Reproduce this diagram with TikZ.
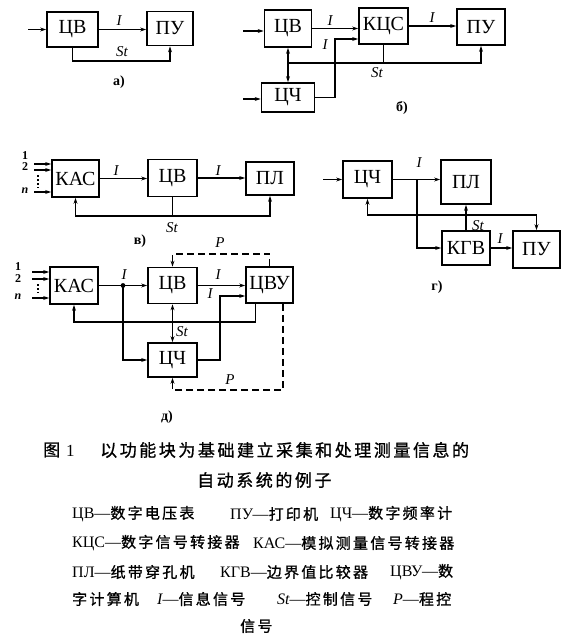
\documentclass[tikz,border=0pt]{standalone}
\usepackage{fontspec}
\setmainfont{Liberation Serif}
\newfontfamily\cjk{Noto Sans CJK SC}[LetterSpace=15,FakeBold=1]
\usetikzlibrary{arrows.meta,calc}
\tikzset{
  blk/.style={draw, line width=1.7pt, inner sep=0pt, font=\fontsize{20}{20}\selectfont},
  ln/.style={line width=1.2pt},
  arr/.style={line width=1.2pt, -{Stealth[length=6pt,width=4pt]}},
  pdash/.style={dash pattern=on 7pt off 4pt},
  lbl/.style={inner sep=0pt, font=\fontsize{15}{15}\selectfont\itshape},
  num/.style={inner sep=0pt, font=\fontsize{12}{12}\selectfont\bfseries},
  tag/.style={inner sep=0pt, font=\fontsize{14}{14}\selectfont\bfseries},
  capA/.style={inner sep=0pt, anchor=west, font=\fontsize{17}{17}\selectfont},
  capB/.style={inner sep=0pt, anchor=west, font=\fontsize{15}{15}\selectfont},
}
\newcommand{\cy}[1]{{\fontsize{16}{16}\selectfont #1}}
\begin{document}
\begin{tikzpicture}[x=1pt,y=-1pt]
\fill[white] (0,0) rectangle (580,637);
\useasboundingbox (0,0) rectangle (580,637);

%% ---------- a) ----------
\node[blk, minimum width=51pt, minimum height=35pt] (cvA) at (72.5,29.5) {ЦВ};
\node[blk, minimum width=46pt, minimum height=34pt] (puA) at (170,28.5) {ПУ};
\coordinate (inA) at (28,29.5);
\draw[arr] (inA) -- (cvA.west);
\draw[arr] (cvA.east) -- (cvA.east -| puA.west);
\node[lbl] (lIa) at (119,21) {I};
\coordinate (fbA) at (120,61);
\draw[arr] (cvA.south) |- (fbA) -| (puA.south);
\node[lbl] (lSa) at (122,52) {St};
\node[tag] (ta) at (119,82) {а)};

%% ---------- б) ----------
\node[blk, minimum width=47pt, minimum height=37pt] (cvB) at (288,28.5) {ЦВ};
\node[blk, minimum width=49pt, minimum height=36pt] (kcs) at (383.5,26) {КЦС};
\node[blk, minimum width=48pt, minimum height=36pt] (puB) at (481,27) {ПУ};
\node[blk, minimum width=53pt, minimum height=29pt] (cchB) at (288,97.5) {ЦЧ};
\coordinate (inB1) at (243,31);
\coordinate (inB2) at (243,99);
\draw[arr] (inB1) -- (inB1 -| cvB.west);
\draw[arr] (inB2) -- (inB2 -| cchB.west);
\draw[arr] (cvB.east) -- (cvB.east -| kcs.west);
\node[lbl] (lIb1) at (330,21) {I};
\draw[arr] (kcs.east) -- (kcs.east -| puB.west);
\node[lbl] (lIb2) at (432,18) {I};
\coordinate (bj) at (335,39);
\draw[arr] (cchB.east) -| (bj) -- (bj -| kcs.west);
\node[lbl] (lIb3) at (325,45) {I};
\coordinate (busB) at (288,63);
\draw[arr] (busB) -- (cvB.south);
\draw[arr] (busB) -- (cchB.north);
\draw[arr] (busB) -| (puB.south);
\draw[ln] (kcs.south) -- (kcs.south |- busB);
\node[lbl] (lSb) at (377,73) {St};
\node[tag] (tb) at (402,108) {б)};

%% ---------- в) ----------
\node[blk, minimum width=47pt, minimum height=37pt] (kasV) at (75.5,178.5) {КАС};
\node[blk, minimum width=49pt, minimum height=37pt] (cvV) at (172.5,178) {ЦВ};
\node[blk, minimum width=48pt, minimum height=33pt] (plV) at (270,178.5) {ПЛ};
\coordinate (inV1) at (34,164);
\coordinate (inV2) at (34,170);
\coordinate (inV3) at (34,192);
\draw[arr] (inV1) -- (inV1 -| kasV.west);
\draw[arr] (inV2) -- (inV2 -| kasV.west);
\draw[arr] (inV3) -- (inV3 -| kasV.west);
\node[num] (nV1) at (25,156) {1};
\node[num] (nV2) at (25,167) {2};
\node[num] (nV3) at (25,191) {\itshape n};
\coordinate (dV1) at (38,175);
\coordinate (dV2) at (38,188);
\draw[line width=1.6pt, dash pattern=on 1.6pt off 2.4pt] (dV1) -- (dV2);
\draw[arr] (kasV.east) -- (kasV.east -| cvV.west);
\node[lbl] (lIv1) at (116,171) {I};
\draw[arr] (cvV.east) -- (cvV.east -| plV.west);
\node[lbl] (lIv2) at (218,171) {I};
\coordinate (busV) at (172.5,216);
\draw[ln] (cvV.south) -- (busV);
\draw[arr] (busV) -| (kasV.south);
\draw[arr] (busV) -| (plV.south);
\node[lbl] (lSv) at (172,228) {St};
\node[tag] (tv) at (140,241) {в)};

%% ---------- г) ----------
\node[blk, minimum width=49pt, minimum height=37pt] (cchG) at (367.5,179.5) {ЦЧ};
\node[blk, minimum width=50pt, minimum height=44pt] (plG) at (466,182) {ПЛ};
\node[blk, minimum width=48pt, minimum height=34pt] (kgv) at (466,248) {КГВ};
\node[blk, minimum width=47pt, minimum height=37pt] (puG) at (536.5,249.5) {ПУ};
\coordinate (inG) at (323,179.5);
\draw[arr] (inG) -- (cchG.west);
\draw[arr] (cchG.east) -- (cchG.east -| plG.west);
\coordinate (jG) at (417,179.5);
\coordinate (jG2) at (417,248);
\draw[arr] (jG) -- (jG2) -- (kgv.west);
\node[lbl] (lIg1) at (419,163) {I};
\coordinate (busG) at (466,215);
\draw[arr] (busG) -| (cchG.south);
\draw[arr] (busG) -| (puG.north);
\draw[arr] (kgv.north) -- (plG.south);
\node[lbl] (lSg) at (478,226) {St};
\draw[arr] (kgv.east) -- (kgv.east -| puG.west);
\node[lbl] (lIg2) at (500,239) {I};
\node[tag] (tg) at (437,287) {г)};

%% ---------- д) ----------
\node[blk, minimum width=48pt, minimum height=37pt] (kasD) at (74,285.5) {КАС};
\node[blk, minimum width=49pt, minimum height=36pt] (cvD) at (172.5,285.5) {ЦВ};
\node[blk, minimum width=47pt, minimum height=36pt] (cvu) at (269.5,285) {ЦВУ};
\node[blk, minimum width=49pt, minimum height=34pt] (cchD) at (172.5,360) {ЦЧ};
\coordinate (inD1) at (32,272);
\coordinate (inD2) at (32,279);
\coordinate (inD3) at (32,298);
\draw[arr] (inD1) -- (inD1 -| kasD.west);
\draw[arr] (inD2) -- (inD2 -| kasD.west);
\draw[arr] (inD3) -- (inD3 -| kasD.west);
\node[num] (nD1) at (18,267) {1};
\node[num] (nD2) at (18,279) {2};
\node[num] (nD3) at (18,297) {\itshape n};
\coordinate (dD1) at (38,284);
\coordinate (dD2) at (38,293);
\draw[line width=1.6pt, dash pattern=on 1.6pt off 2.4pt] (dD1) -- (dD2);
\draw[arr] (kasD.east) -- (kasD.east -| cvD.west);
\coordinate (jD) at (123,285.5);
\fill (jD) circle (2.4pt);
\node[lbl] (lId1) at (124,275) {I};
\draw[arr] (jD) |- (cchD.west);
\draw[arr] (cvD.east) -- (cvD.east -| cvu.west);
\node[lbl] (lId2) at (218,275) {I};
\coordinate (kD) at (220,296);
\draw[arr] (cchD.east) -| (kD) -- (kD -| cvu.west);
\node[lbl] (lId3) at (210,294) {I};
\coordinate (busD) at (172.5,322);
\coordinate (cvuS) at ([xshift=-14pt]cvu.south);
\draw[ln] (cvuS) |- (busD);
\draw[arr] (busD) -| (kasD.south);
\draw[arr] (busD) -- (cvD.south);
\draw[arr] (busD) -- (cchD.north);
\node[lbl] (lSd) at (182,332) {St};
\coordinate (pT) at (220,254);
\draw[arr, pdash] (cvu.north) |- (pT) -| (cvD.north);
\node[lbl] (lPd1) at (220,243) {P};
\coordinate (cvuS2) at ([xshift=13.5pt]cvu.south);
\coordinate (pB) at (230,390);
\draw[arr, pdash] (cvuS2) |- (pB) -| (cchD.south);
\node[lbl] (lPd2) at (230,380) {P};
\node[tag] (td) at (167,417) {д)};

%% ---------- caption ----------
\node[capA] (c1a) at (43,450) {{\cjk 图}\hspace{6pt}1};
\node[capA] (c1b) at (100,450) {\cjk 以功能块为基础建立采集和处理测量信息的};
\node[capA] (c2) at (197,480) {\cjk 自动系统的例子};
\node[capB] (c3a) at (72,514) {\cy{ЦВ—}\cjk 数字电压表};
\node[capB] (c3b) at (230,514) {\cy{ПУ—}\cjk 打印机};
\node[capB] (c3c) at (330,514) {\cy{ЦЧ—}\cjk 数字频率计};
\node[capB] (c4a) at (72,543) {\cy{КЦС—}\cjk 数字信号转接器};
\node[capB] (c4b) at (253,543) {\cy{КАС—}\cjk 模拟测量信号转接器};
\node[capB] (c5a) at (72,572) {\cy{ПЛ—}\cjk 纸带穿孔机};
\node[capB] (c5b) at (220,572) {\cy{КГВ—}\cjk 边界值比较器};
\node[capB] (c5c) at (390,572) {\cy{ЦВУ—}\cjk 数};
\node[capB] (c6a) at (72,599) {\cjk 字计算机};
\node[capB] (c6b) at (157,599) {\cy{\itshape I}\cy{—}\cjk 信息信号};
\node[capB] (c6c) at (277,599) {\cy{\itshape St}\cy{—}\cjk 控制信号};
\node[capB] (c6d) at (393,599) {\cy{\itshape P}\cy{—}\cjk 程控};
\node[capB] (c7) at (240,626) {\cjk 信号};
\end{tikzpicture}
\end{document}
